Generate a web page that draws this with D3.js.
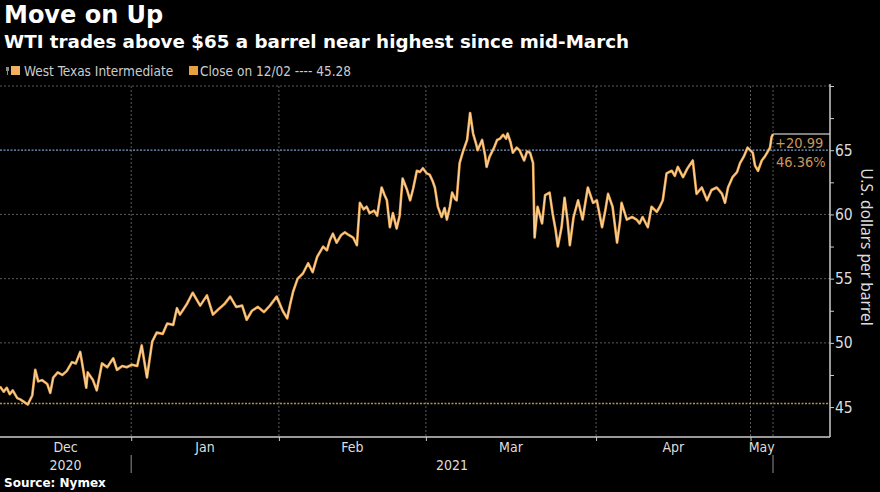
<!DOCTYPE html>
<html>
<head>
<meta charset="utf-8">
<script src="https://cdn.jsdelivr.net/npm/d3@7"></script>
<style>
  html, body { margin: 0; padding: 0; background: #000; }
  svg { display: block; }
  .cond { font-family: "DejaVu Sans Condensed", "DejaVu Sans", sans-serif; font-stretch: condensed; }
</style>
</head>
<body>
<div class="chart"></div>
<script>
// WTI price, [trading day since start, USD per barrel]
const wti = [
  [0,46.6],[0.5,46.2],[0.9,46.5],[1.3,46.0],[1.7,46.3],[2.3,45.7],[2.7,45.6],[3.2,45.4],[3.7,45.2],[4.3,45.9],
  [4.7,47.9],[5.1,47.0],[5.6,47.1],[6.3,46.8],[6.7,46.1],[7.1,47.3],[7.7,47.7],[8.3,47.5],[8.9,47.8],[9.6,48.5],
  [10.1,48.4],[10.7,49.3],[11.1,47.9],[11.5,46.5],[11.7,47.7],[12.4,47.1],[12.9,46.3],[13.6,48.4],[14.3,48.1],[15.1,48.8],
  [15.6,47.9],[16.3,48.2],[16.9,48.1],[17.6,48.3],[18.3,48.2],[18.9,49.8],[19.6,47.3],[20.3,50.1],[20.9,50.8],[21.7,50.7],
  [22.3,51.5],[23.1,51.4],[23.6,52.7],[24,52.2],[24.9,53.0],[25.7,53.9],[26.7,52.9],[27.6,53.7],[28.4,52.2],[29.1,52.6],
  [29.9,53.0],[30.7,53.6],[31.5,52.8],[32.3,52.9],[32.9,51.8],[33.6,52.5],[34.4,52.8],[35.2,52.4],[36,52.9],[36.9,53.6],
  [37.7,52.5],[38.3,51.9],[38.7,53.0],[39.1,54.0],[39.7,55.0],[40.4,55.4],[41.1,56.2],[41.7,55.5],[42.3,56.7],[43.1,57.5],
  [43.6,57.2],[44,58.0],[44.4,58.5],[44.9,57.8],[45.5,58.4],[46,58.6],[46.5,58.4],[47.1,58.2],[47.6,57.6],[48,60.9],
  [48.5,60.4],[48.9,60.6],[49.3,60.1],[49.9,60.3],[50.3,59.9],[50.9,62.1],[51.3,61.5],[51.6,61.1],[52,59.0],[52.4,60.1],
  [52.9,58.9],[53.3,59.9],[53.7,62.8],[54.3,61.9],[54.7,61.1],[55.1,62.0],[55.6,63.4],[56,63.3],[56.4,63.6],[56.9,63.2],
  [57.3,63.1],[57.7,62.6],[58,62.1],[58.4,60.6],[58.9,59.8],[59.3,60.5],[59.6,59.6],[60,60.6],[60.3,61.7],[60.7,61.2],
  [60.9,61.1],[61.3,64.0],[61.7,64.8],[62.3,65.8],[62.7,67.9],[63.1,66.3],[63.5,65.5],[63.7,65.0],[64.3,65.8],[64.7,64.6],
  [64.9,63.7],[65.3,64.5],[65.9,65.2],[66.3,65.8],[66.7,65.9],[67.1,66.2],[67.5,65.9],[67.7,66.3],[68.1,65.6],[68.4,64.8],
  [68.9,65.2],[69.3,65.0],[69.9,64.2],[70.3,64.9],[70.7,64.8],[71.1,64.0],[71.3,58.2],[71.7,60.6],[72.3,59.3],[72.7,61.5],
  [73.3,61.7],[73.7,60.1],[74.1,58.8],[74.4,57.5],[74.9,59.0],[75.3,61.3],[75.7,59.5],[76,57.6],[76.5,59.8],[77.1,61.1],
  [77.7,59.6],[78.4,62.1],[79.1,60.9],[79.6,61.1],[80.3,59.0],[80.7,60.2],[81.1,61.6],[81.7,60.6],[82.3,57.8],[82.7,59.5],
  [82.9,60.9],[83.6,59.6],[84.3,59.8],[84.9,59.6],[85.3,59.3],[85.7,59.8],[86.4,59.0],[86.9,60.6],[87.6,60.2],[88,60.6],
  [88.4,61.1],[88.9,63.2],[89.6,63.4],[90,63.0],[90.4,63.7],[91.1,62.9],[91.7,63.6],[92.4,64.2],[92.9,61.6],[93.6,62.1],
  [94.3,61.1],[94.9,61.9],[95.6,62.1],[96.3,61.6],[96.7,60.9],[97.1,62.1],[97.7,62.9],[98.3,63.3],[98.7,64.0],[99.2,64.5],
  [99.7,65.2],[100.4,64.8],[100.7,63.8],[101.1,63.4],[101.6,64.2],[102,64.5],[102.3,64.8],[102.7,65.2],[102.9,66.0],[103.1,66.27]
];

// month boundaries (trading day), month names, years
const monthStarts = [17.5, 37.2, 56.8, 79.5, 100.1];
const monthNames = ['Dec', 'Jan', 'Feb', 'Mar', 'Apr', 'May'];
const years = [{ label: '2020', from: 0, to: 17.5 }, { label: '2021', from: 17.5, to: 103.1 }];
const yTicks = [45, 50, 55, 60, 65, 70];
const closeRef = 45.28;   // close on 12/02
const levelLine = 65;

const svg_width = 880, svg_height = 492;
const plot = { left: 0, right: 830, top: 86, bottom: 437 };

const svg = d3.select('.chart').append('svg')
  .attr('width', svg_width).attr('height', svg_height)
  .style('background', '#000');

const xScale = d3.scaleLinear().domain([0, 110.7]).range([plot.left, plot.right]);
const yScale = d3.scaleLinear().domain([42.67, 70]).range([plot.bottom, plot.top]);

// header
svg.append('text').attr('x', 4).attr('y', 23)
  .style('font-family', '"DejaVu Sans", sans-serif').style('font-weight', 'bold')
  .style('font-size', '24px').style('fill', '#fff').text('Move on Up');
svg.append('text').attr('x', 4).attr('y', 48)
  .style('font-family', '"DejaVu Sans", sans-serif').style('font-weight', 'bold')
  .style('font-size', '18.3px').style('fill', '#fff')
  .text('WTI trades above $65 a barrel near highest since mid-March');

// legend
const legend = svg.append('g').attr('class', 'cond').style('font-size', '13.5px').style('fill', '#ccc');
legend.append('rect').attr('x', 6).attr('y', 67).attr('width', 3).attr('height', 4).style('fill', '#8a8a8a');
legend.append('rect').attr('x', 7).attr('y', 71).attr('width', 1).attr('height', 4).style('fill', '#8a8a8a');
legend.append('rect').attr('x', 11).attr('y', 66).attr('width', 9).attr('height', 9).style('fill', '#f0b060');
legend.append('text').attr('x', 24).attr('y', 76).text('West Texas Intermediate');
legend.append('rect').attr('x', 189).attr('y', 66).attr('width', 9).attr('height', 9).style('fill', '#e8a040');
legend.append('text').attr('x', 200).attr('y', 76).text('Close on 12/02 ---- ' + closeRef.toFixed(2));

// horizontal grid
svg.append('g').selectAll('line').data(yTicks.filter(d => d !== 45 && d !== levelLine)).join('line')
  .attr('x1', plot.left).attr('x2', plot.right)
  .attr('y1', d => yScale(d)).attr('y2', d => yScale(d))
  .style('stroke', '#5a5a5a').style('stroke-width', 1).style('stroke-dasharray', '2,2');

// vertical grid at month starts and data end
const lastDay = wti[wti.length - 1][0];
const vLines = monthStarts.concat([lastDay]);
svg.append('g').selectAll('line').data(vLines).join('line')
  .attr('x1', d => xScale(d)).attr('x2', d => xScale(d))
  .attr('y1', plot.top).attr('y2', plot.bottom)
  .style('stroke', '#5a5a5a').style('stroke-width', 1).style('stroke-dasharray', '2,2');

// reference lines
svg.append('line').attr('x1', plot.left).attr('x2', plot.right)
  .attr('y1', yScale(levelLine)).attr('y2', yScale(levelLine))
  .style('stroke', '#7b9cc8').style('stroke-width', 1.3).style('stroke-dasharray', '2,1.5');
svg.append('line').attr('x1', plot.left).attr('x2', plot.right)
  .attr('y1', yScale(closeRef)).attr('y2', yScale(closeRef))
  .style('stroke', '#b8904e').style('stroke-width', 1.3).style('stroke-dasharray', '2,1.5');

// price line
const line = d3.line().x(d => xScale(d[0])).y(d => yScale(d[1]));
svg.append('path').datum(wti).attr('d', line)
  .style('fill', 'none').style('stroke', '#e9a552').style('stroke-width', 2.6).style('stroke-linejoin', 'round');
svg.append('path').datum(wti).attr('d', line)
  .style('fill', 'none').style('stroke', '#ffdcaa').style('stroke-width', 0.9).style('stroke-linejoin', 'round');

// change annotation
const lastPrice = wti[wti.length - 1][1];
const change = lastPrice - closeRef;
svg.append('line').attr('x1', xScale(lastDay)).attr('x2', plot.right)
  .attr('y1', yScale(lastPrice)).attr('y2', yScale(lastPrice))
  .style('stroke', '#aaa').style('stroke-width', 1.5);
const ann = svg.append('g').attr('class', 'cond').style('font-size', '14.5px').style('fill', '#c8965a');
ann.append('text').attr('x', xScale(lastDay) + 2).attr('y', yScale(lastPrice) + 14)
  .text('+' + change.toFixed(2));
ann.append('text').attr('x', xScale(lastDay) + 3).attr('y', yScale(lastPrice) + 33)
  .text((change / closeRef * 100).toFixed(2) + '%');

// y axis (right)
const yAxis = d3.axisRight(yScale).tickValues(d3.range(45, 70.1, 2.5))
  .tickSize(4).tickFormat(d => (d % 5 === 0 && d < 70 ? d : ''));
const yAxisDraw = svg.append('g').attr('class', 'y axis cond')
  .attr('transform', `translate(${plot.right},0)`).call(yAxis);
yAxisDraw.select('.domain').attr('d', `M0,${plot.top - 2}V${plot.bottom}`)
  .style('stroke', '#ccc').style('stroke-width', 1.5);
yAxisDraw.selectAll('.tick line').style('stroke', '#ccc');
yAxisDraw.selectAll('.tick text').attr('x', 5)
  .style('font-size', '15.5px').style('fill', '#ddd').style('font-family', '"DejaVu Sans Condensed", "DejaVu Sans", sans-serif');
svg.append('text').attr('transform', `translate(861,247) rotate(90)`)
  .attr('text-anchor', 'middle')
  .style('font-family', '"Noto Sans", sans-serif').style('font-size', '15.5px').style('fill', '#ddd')
  .text('U.S. dollars per barrel');

// x axis (bottom)
const xAxis = d3.axisBottom(xScale).tickValues(monthStarts).tickSize(4).tickFormat('');
const xAxisDraw = svg.append('g').attr('class', 'x axis')
  .attr('transform', `translate(0,${plot.bottom})`).call(xAxis);
xAxisDraw.select('.domain').attr('d', `M${plot.left},0H${plot.right}`)
  .style('stroke', '#ccc').style('stroke-width', 1.5);
xAxisDraw.selectAll('.tick line').style('stroke', '#ccc');

// month labels centred in each month span
const bounds = [0].concat(monthStarts, [lastDay]);
svg.append('g').attr('class', 'cond').selectAll('text').data(monthNames).join('text')
  .attr('x', (d, i) => xScale((bounds[i] + bounds[i + 1]) / 2))
  .attr('y', 452).attr('text-anchor', 'middle')
  .style('font-size', '14px').style('fill', '#ddd').text(d => d);

// year labels and separators
svg.append('g').attr('class', 'cond').selectAll('text').data(years).join('text')
  .attr('x', d => xScale((d.from + d.to) / 2)).attr('y', 470).attr('text-anchor', 'middle')
  .style('font-size', '14px').style('fill', '#ddd').text(d => d.label);
svg.append('g').selectAll('line').data([monthStarts[0], lastDay]).join('line')
  .attr('x1', d => xScale(d)).attr('x2', d => xScale(d))
  .attr('y1', plot.bottom + 18).attr('y2', plot.bottom + 36)
  .style('stroke', '#777').style('stroke-width', 1.2);

// source
svg.append('text').attr('x', 4).attr('y', 487)
  .style('font-family', '"DejaVu Sans", sans-serif')
  .style('font-size', '12px').style('font-weight', 'bold').style('fill', '#fff')
  .text('Source: Nymex');
</script>
</body>
</html>
